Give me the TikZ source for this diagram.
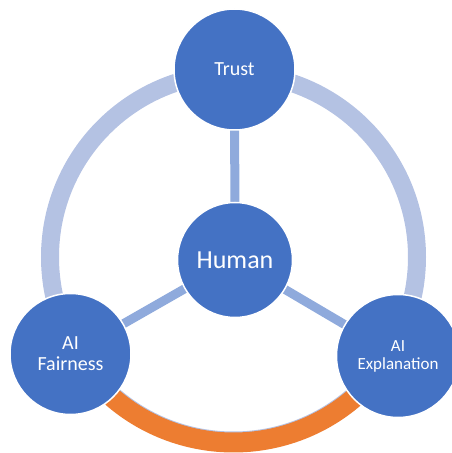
\documentclass[tikz,border=0pt]{standalone}
\usepackage{fontspec}
\setmainfont{Carlito}
\usetikzlibrary{backgrounds}
\definecolor{nodeblue}{HTML}{4472C4}
\definecolor{ringblue}{HTML}{B4C2E3}
\definecolor{spokeblue}{HTML}{8FAADC}
\definecolor{arcorange}{HTML}{ED7D31}
\tikzset{
  bubble/.style={circle, fill=nodeblue, draw=white, line width=1.5pt, text=white,
    minimum size=121pt, inner sep=0pt, align=center},
  ringline/.style={draw=ringblue, line width=18pt},
  orangeline/.style={draw=arcorange, line width=20pt},
  spoke/.style={draw=spokeblue, line width=9pt}
}
\begin{document}
\begin{tikzpicture}[x=1pt,y=1pt]
\useasboundingbox (0,0) rectangle (452,453);
\coordinate (ctr) at (233.5,196);
\node[bubble, font=\fontsize{20}{21}\selectfont] (trust) at (234.5,383.5) {Trust};
\node[bubble, minimum size=115pt, font=\fontsize{26}{28}\selectfont] (human) at (235,193) {Human};
\node[bubble, font=\fontsize{20}{21}\selectfont] (fair) at (70.5,99) {AI\\Fairness};
\node[bubble, minimum size=123pt, font=\fontsize{17}{18}\selectfont] (expl) at (398,97) {AI\\Explanation};
\begin{pgfonlayer}{background}
\path[ringline] (ctr) circle[radius=183.5];
\path[orangeline] ([shift={(229:185.5)}]ctr) arc[start angle=229, end angle=311, radius=185.5];
\path[spoke] (human.center) -- (trust.center);
\path[spoke] (human.center) -- (fair.center);
\path[spoke] (human.center) -- (expl.center);
\end{pgfonlayer}
\end{tikzpicture}
\end{document}
